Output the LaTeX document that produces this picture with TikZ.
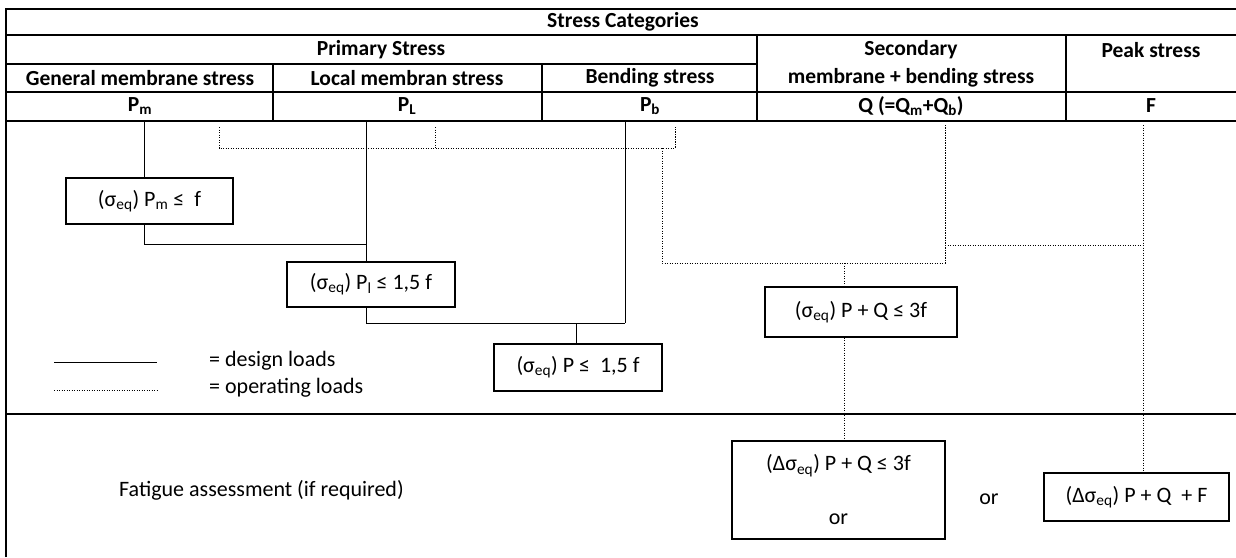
\documentclass[tikz,border=0pt]{standalone}
\usepackage{fontspec}
\setmainfont{Carlito}
\usetikzlibrary{positioning,calc}

\begin{document}
\begin{tikzpicture}[x=1pt,y=-1pt,font=\fontsize{22}{27}\selectfont,
  grid/.style={line width=1.3pt},
  design/.style={line width=0.9pt},
  operating/.style={line width=0.9pt,dash pattern=on 1.1pt off 1.4pt},
  head/.style={font=\fontsize{21.5}{27.5}\selectfont\bfseries,inner sep=1pt},
  check/.style={draw,line width=1.1pt,minimum height=46pt,inner sep=2pt,align=center},
  plain/.style={inner sep=1pt,anchor=west}]
  \useasboundingbox (0,0) rectangle (1236,557);
  % table frame
  \draw[grid] (6,557) -- (6,9) -- (1236,9);
  \draw[grid] (6,35) -- (1236,35);
  \draw[grid] (6,64) -- (757,64);
  \draw[grid] (6,92) -- (1236,92);
  \draw[grid] (6,121) -- (1236,121);
  \draw[grid] (6,414) -- (1236,414);
  \draw[grid] (273,64) -- (273,121);
  \draw[grid] (542,64) -- (542,121);
  \draw[grid] (757,35) -- (757,121);
  \draw[grid] (1066,35) -- (1066,121);
  % header
  \node[head] (cat) at (623,22) {Stress Categories};
  \node[head] (prim) at (381,50) {Primary Stress};
  \node[head,align=center] (sec) at (911,64) {Secondary\\membrane + bending stress};
  \node[head] (peak) at (1151,50) {Peak stress};
  \node[head] (gen) at (140,78) {General membrane stress};
  \node[head] (loc) at (407,78) {Local membran stress};
  \node[head] (bend) at (650,78) {Bending stress};
  \node[head] (pm) at (140,106) {P\textsubscript{m}};
  \node[head] (pl) at (407,106) {P\textsubscript{L}};
  \node[head] (pb) at (650,106) {P\textsubscript{b}};
  \node[head] (q) at (911,106) {Q (=Q\textsubscript{m}+Q\textsubscript{b})};
  \node[head] (f) at (1151,106) {F};
  % checks
  \node[check,minimum width=167pt] (chkPm) at (149.5,201) {(σ\textsubscript{eq}) P\textsubscript{m} ≤~ f};
  \node[check,minimum width=168pt,minimum height=45pt] (chkPl) at (371,284.5) {(σ\textsubscript{eq}) P\textsubscript{l} ≤ 1,5 f};
  \node[check,minimum width=168pt,minimum height=47pt] (chkP) at (578,367.5) {(σ\textsubscript{eq}) P ≤~ 1,5 f};
  \node[check,minimum width=192pt,minimum height=50pt] (chkPQ) at (861,312) {(σ\textsubscript{eq}) P + Q ≤ 3f};
  \node[check,minimum width=213pt,minimum height=98pt] (fatPQ) at (838.5,490) {(Δσ\textsubscript{eq}) P + Q ≤ 3f\\[27pt]or};
  \node[check,minimum width=185pt,minimum height=48pt] (fatPQF) at (1136.5,497) {(Δσ\textsubscript{eq}) P + Q ~+ F};
  \node[inner sep=1pt] (or) at (989,499) {or};
  \node[plain] (fat) at (118,490) {Fatigue assessment (if required)};
  % legend
  \coordinate (lgA) at (54,362); \coordinate (lgB) at (157,362);
  \coordinate (lgC) at (54,390); \coordinate (lgD) at (157,390);
  \draw[design] (lgA) -- (lgB);
  \draw[operating] (lgC) -- (lgD);
  \node[plain] (lgdesign) at (208,361) {= design loads};
  \node[plain] (lgoper) at (208,388) {= operating loads};
  % design load paths
  \coordinate (dPm) at (144,121); \coordinate (dPl) at (366,121); \coordinate (dPb) at (625,121);
  \coordinate (jPm) at (144,244); \coordinate (jPl) at (366,323); \coordinate (jPb) at (625,323);
  \coordinate (jP) at (576,323);
  \draw[design] (dPm) -- (dPm |- chkPm.north);
  \draw[design] (chkPm.south -| jPm) -- (jPm) -- (jPm -| dPl);
  \draw[design] (dPl) -- (dPl |- chkPl.north);
  \draw[design] (chkPl.south -| jPl) -- (jPl) -- (jPb);
  \draw[design] (dPb) -- (jPb);
  \draw[design] (jP) -- (jP |- chkP.north);
  % operating load paths
  \coordinate (oA) at (219,127); \coordinate (oB) at (435,127); \coordinate (oC) at (675,127);
  \coordinate (oQ) at (945,125); \coordinate (oF) at (1143,125);
  \coordinate (oBus) at (219,148); \coordinate (oDn) at (662,148);
  \coordinate (oLow) at (662,263); \coordinate (oMid) at (844,263);
  \draw[operating] (oA) -- (oBus) -- (oBus -| oC) -- (oC);
  \draw[operating] (oB) -- (oB |- oBus);
  \draw[operating] (oDn) -- (oLow) -- (oLow -| oQ) -- (oQ);
  \draw[operating] (oQ |- 0,245) -- (oF |- 0,245);
  \draw[operating] (oF) -- (oF |- fatPQF.north);
  \draw[operating] (oMid) -- (oMid |- chkPQ.north);
  \draw[operating] (chkPQ.south -| oMid) -- (oMid |- fatPQ.north);
\end{tikzpicture}
\end{document}
